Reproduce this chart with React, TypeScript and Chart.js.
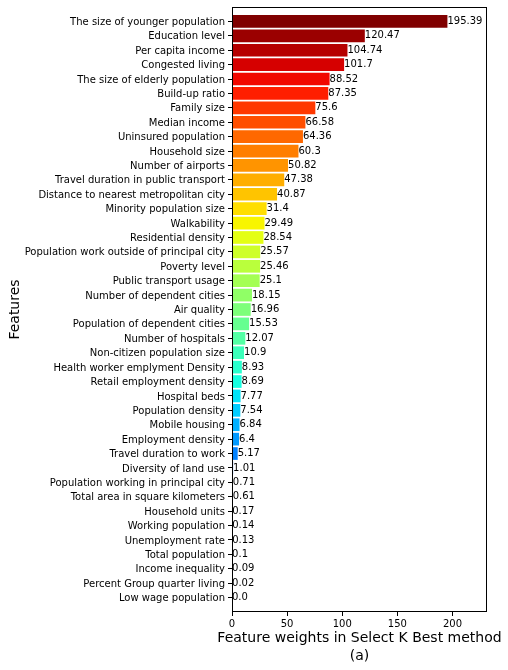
import React, { useEffect, useRef } from "react";
import { Chart, registerables } from "chart.js";

Chart.register(...registerables);

const features: string[] = [
  "The size of younger population",
  "Education level",
  "Per capita income",
  "Congested living",
  "The size of elderly population",
  "Build-up ratio",
  "Family size",
  "Median income",
  "Uninsured population",
  "Household size",
  "Number of airports",
  "Travel duration in public transport",
  "Distance to nearest metropolitan city",
  "Minority population size",
  "Walkability",
  "Residential density",
  "Population work outside of principal city",
  "Poverty level",
  "Public transport usage",
  "Number of dependent cities",
  "Air quality",
  "Population of dependent cities",
  "Number of hospitals",
  "Non-citizen population size",
  "Health worker emplyment Density",
  "Retail employment density",
  "Hospital beds",
  "Population density",
  "Mobile housing",
  "Employment density",
  "Travel duration to work",
  "Diversity of land use",
  "Population working in principal city",
  "Total area in square kilometers",
  "Household units",
  "Working population",
  "Unemployment rate",
  "Total population",
  "Income inequality",
  "Percent Group quarter living",
  "Low wage population",
];

const weights: number[] = [
  195.39, 120.47, 104.74, 101.7, 88.52, 87.35, 75.6, 66.58, 64.36, 60.3, 50.82,
  47.38, 40.87, 31.4, 29.49, 28.54, 25.57, 25.46, 25.1, 18.15, 16.96, 15.53,
  12.07, 10.9, 8.93, 8.69, 7.77, 7.54, 6.84, 6.4, 5.17, 1.01, 0.71, 0.61, 0.17,
  0.14, 0.13, 0.1, 0.09, 0.02, 0.0,
];

const xTickValues: number[] = [0, 50, 100, 150, 200];
const xMax = 231.3;
const xTitleLines: string[] = ["Feature weights in Select K Best method", "(a)"];
const yTitle = "Features";

const FONT = '"DejaVu Sans", sans-serif';

type Seg = [number, number][];
const jetR: Seg = [[0, 0], [0.35, 0], [0.66, 1], [0.89, 1], [1, 0.5]];
const jetG: Seg = [[0, 0], [0.125, 0], [0.375, 1], [0.64, 1], [0.91, 0], [1, 0]];
const jetB: Seg = [[0, 0.5], [0.11, 1], [0.34, 1], [0.65, 0], [1, 0]];

function interp(seg: Seg, x: number): number {
  for (let k = 0; k < seg.length - 1; k++) {
    const [x0, y0] = seg[k];
    const [x1, y1] = seg[k + 1];
    if (x <= x1) {
      if (x1 === x0) return y1;
      return y0 + ((x - x0) / (x1 - x0)) * (y1 - y0);
    }
  }
  return seg[seg.length - 1][1];
}

function jet(t: number): string {
  const idx = Math.min(255, Math.max(0, Math.floor(t * 256)));
  const x = idx / 255;
  const r = Math.round(interp(jetR, x) * 255);
  const g = Math.round(interp(jetG, x) * 255);
  const b = Math.round(interp(jetB, x) * 255);
  return `rgb(${r},${g},${b})`;
}

function fmt(v: number): string {
  return Number.isInteger(v) ? v.toFixed(1) : String(v);
}

export default function App() {
  const ref = useRef<HTMLCanvasElement | null>(null);

  useEffect(() => {
    document.body.style.margin = "0";
    const canvas = ref.current;
    if (!canvas) return;
    const n = features.length;
    const colors = features.map((_, i) => jet((n - 1 - i) / (n - 1)));

    const framePlugin = {
      id: "frameAndLabels",
      afterDatasetsDraw(chart: any) {
        const { ctx, chartArea } = chart;
        ctx.save();
        ctx.strokeStyle = "#000";
        ctx.lineWidth = 1;
        const l = Math.round(chartArea.left) + 0.5;
        const t = Math.round(chartArea.top) + 0.5;
        const r = Math.round(chartArea.right) - 0.5;
        const b = Math.round(chartArea.bottom) - 0.5;
        ctx.strokeRect(l, t, r - l, b - t);
        const meta = chart.getDatasetMeta(0);
        ctx.font = `10px ${FONT}`;
        ctx.fillStyle = "#000";
        ctx.textAlign = "left";
        ctx.textBaseline = "middle";
        meta.data.forEach((el: any, i: number) => {
          ctx.fillText(fmt(weights[i]), el.x, el.y);
        });
        // x-axis title (two lines, centred on the axis)
        ctx.font = `14px ${FONT}`;
        ctx.textAlign = "center";
        const cx = (chartArea.left + chartArea.right) / 2;
        xTitleLines.forEach((line, k) => {
          ctx.fillText(line, cx, chartArea.bottom + 26 + k * 18);
        });
        ctx.restore();
      },
    };

    const chart = new Chart(canvas, {
      type: "bar",
      data: {
        datasets: [
          {
            data: weights.map((w, i) => ({ x: w, y: i })),
            backgroundColor: colors,
            borderWidth: 0,
            categoryPercentage: 1,
            barPercentage: 0.88,
          } as any,
        ],
      },
      options: {
        indexAxis: "y",
        responsive: false,
        animation: false,
        layout: { padding: { left: 0, top: 7, right: 21, bottom: 0 } },
        plugins: {
          legend: { display: false },
          tooltip: { enabled: false },
        },
        scales: {
          x: {
            type: "linear",
            min: 0,
            max: xMax,
            offset: false,
            afterFit: (scale: any) => {
              scale.height = 58;
              scale.paddingLeft = 0;
              scale.paddingRight = 0;
            },
            afterBuildTicks: (scale: any) => {
              scale.ticks = xTickValues.map((v) => ({ value: v }));
            },
            ticks: {
              includeBounds: false,
              color: "#000",
              font: { family: FONT, size: 10 },
              padding: 2,
              maxRotation: 0,
              autoSkip: false,
              callback: (v: any) => String(v),
            },
            grid: {
              display: true,
              offset: false,
              drawOnChartArea: false,
              drawTicks: true,
              tickLength: 4,
              color: "#000",
            },
            border: { display: false },
            title: { display: false },
          },
          y: {
            type: "linear",
            reverse: true,
            min: -1,
            max: 41,
            offset: false,
            afterFit: (scale: any) => {
              scale.width = 232;
              scale.paddingTop = 0;
              scale.paddingBottom = 0;
            },
            afterBuildTicks: (scale: any) => {
              scale.ticks = features.map((_, i) => ({ value: i }));
            },
            ticks: {
              autoSkip: false,
              color: "#000",
              font: { family: FONT, size: 10 },
              padding: 3,
              labelOffset: 1,
              callback: (v: any) => features[v as number] ?? "",
            },
            grid: {
              display: true,
              offset: false,
              drawOnChartArea: false,
              drawTicks: true,
              tickLength: 4,
              color: "#000",
            },
            border: { display: false },
            title: {
              display: true,
              text: yTitle,
              color: "#000",
              font: { family: FONT, size: 14, lineHeight: 1.2 },
              padding: { top: 7, bottom: 0 },
            },
          },
        },
      } as any,
      plugins: [framePlugin],
    });
    return () => chart.destroy();
  }, []);

  return <canvas ref={ref} width={508} height={670} style={{ display: "block" }} />;
}
